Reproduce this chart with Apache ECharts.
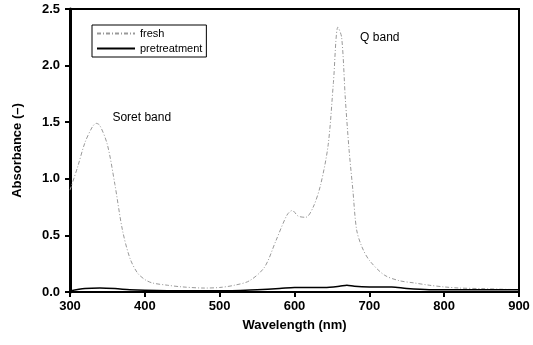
<!DOCTYPE html>
<html><head><meta charset="utf-8">
<script src="https://cdn.jsdelivr.net/npm/echarts@6/dist/echarts.min.js"></script>
<style>html,body{margin:0;padding:0;background:#fff}#c{width:533px;height:345px}</style>
</head><body><div id="c"></div>
<script>
const freshWl = [300,310,320,330,335,340,350,360,370,380,390,400,410,430,450,480,500,520,540,560,575,590,597,605,615,625,635,645,652,658,663,668,673,678,683,690,700,720,740,760,780,800,820,850,900];
const freshAbs = [0.90,1.10,1.32,1.46,1.49,1.47,1.30,0.95,0.55,0.30,0.17,0.11,0.08,0.06,0.045,0.035,0.04,0.06,0.10,0.22,0.45,0.68,0.72,0.67,0.66,0.75,0.95,1.30,1.85,2.34,2.25,1.70,1.25,0.90,0.55,0.40,0.28,0.15,0.10,0.08,0.06,0.045,0.035,0.03,0.02];
const pretWl = [300,320,340,360,380,400,450,500,550,580,600,640,660,670,680,700,730,750,780,800,850,900];
const pretAbs = [0.01,0.03,0.035,0.03,0.02,0.015,0.01,0.01,0.02,0.03,0.04,0.04,0.05,0.06,0.05,0.045,0.045,0.03,0.02,0.02,0.02,0.02];
const xTicks = [300,400,500,600,700,800,900];
const yTicks = [0.0,0.5,1.0,1.5,2.0,2.5];
const annotations = [{text:'Soret band', wl:350, abs:1.54},{text:'Q band', wl:681, abs:2.25}];

const zip = (a,b)=>a.map((v,i)=>[v,b[i]]);
const font = 'Liberation Sans, Arial, sans-serif';
const chart = echarts.init(document.getElementById('c'));
chart.setOption({
  animation:false,
  grid:{left:70,right:14,top:9,bottom:53,show:true,borderColor:'#000',borderWidth:2},
  legend:{
    left:92, top:25, orient:'vertical', itemGap:4, itemWidth:38, itemHeight:10,
    borderColor:'#000', borderWidth:1, padding:[3,4,3,4],
    itemStyle:{color:'rgba(0,0,0,0)',borderWidth:0},
    textStyle:{fontFamily:font,fontSize:11,color:'#000'},
    data:['fresh','pretreatment']
  },
  xAxis:{
    type:'value', min:xTicks[0], max:xTicks[xTicks.length-1], interval:100,
    name:'Wavelength (nm)', nameLocation:'middle', nameGap:27,
    nameTextStyle:{fontFamily:font,fontSize:13,fontWeight:'bold',color:'#000'},
    axisLine:{lineStyle:{color:'#000',width:2}},
    axisTick:{length:5,lineStyle:{color:'#000',width:2}},
    axisLabel:{fontFamily:font,fontSize:13,fontWeight:'bold',color:'#000',margin:8},
    splitLine:{show:false}
  },
  yAxis:{
    type:'value', min:yTicks[0], max:yTicks[yTicks.length-1], interval:0.5,
    name:'Absorbance (–)', nameLocation:'middle', nameGap:46,
    nameTextStyle:{fontFamily:font,fontSize:13,fontWeight:'bold',color:'#000'},
    axisLine:{show:true,lineStyle:{color:'#000',width:3}},
    axisTick:{show:true,length:5,lineStyle:{color:'#000',width:2}},
    axisLabel:{fontFamily:font,fontSize:13,fontWeight:'bold',color:'#000',margin:10,formatter:v=>v.toFixed(1)},
    splitLine:{show:false}
  },
  series:[
    {name:'fresh',type:'line',smooth:0.3,symbol:'none',data:zip(freshWl,freshAbs),
     lineStyle:{color:'#999',width:1,type:[4,2,1,2]},itemStyle:{color:'#999'},
     markPoint:{symbol:'circle',symbolSize:0,silent:true,
       label:{show:true,fontFamily:font,fontSize:12,color:'#000',position:'right',formatter:p=>p.name,offset:[0,0]},
       data:annotations.map(a=>({name:a.text,coord:[a.wl,a.abs]}))}},
    {name:'pretreatment',type:'line',smooth:0.3,symbol:'none',data:zip(pretWl,pretAbs),
     lineStyle:{color:'#000',width:1.5},itemStyle:{color:'#000'}}
  ]
});
</script></body></html>
